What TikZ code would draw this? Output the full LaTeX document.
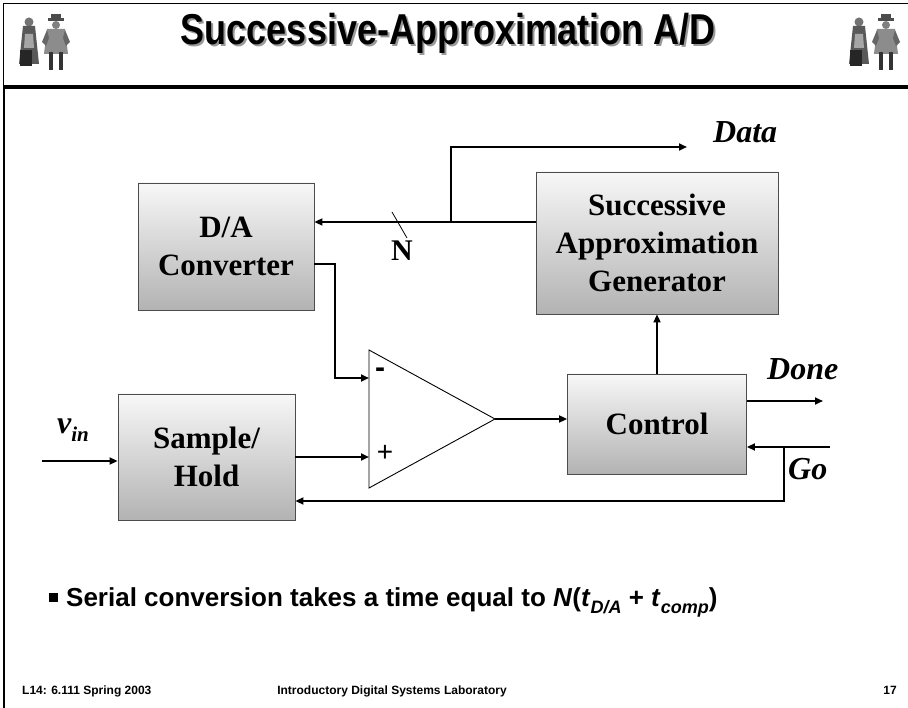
\documentclass[tikz,border=0pt]{standalone}
\usepackage{graphicx}
\usepackage{fontspec}
\setmainfont{Liberation Serif}
\setsansfont{Liberation Sans}
\usetikzlibrary{arrows.meta}
\begin{document}
\begin{tikzpicture}[x=1pt,y=-1pt,
  blk/.style={draw=black!70,line width=0.9pt,top color=black!3,bottom color=black!30,
    font=\fontsize{31}{38}\selectfont\bfseries,align=center,inner sep=0pt},
  arr/.style={line width=2.4pt,-{Triangle[length=8pt,width=7pt]}},
  sig/.style={font=\fontsize{32}{32}\selectfont\bfseries\itshape,inner sep=0pt},
  foot/.style={font=\sffamily\bfseries\fontsize{12}{12}\selectfont,inner sep=0pt},
  ttl/.style={font=\sffamily\bfseries\fontsize{36}{36}\selectfont,inner sep=0pt,anchor=base},
  scholars/.pic={
    % robed figure
    \fill[black!55] (14,8) circle (4.5);
    \fill[black!65] (8,12) -- (20,12) -- (24,50) -- (4,50) -- cycle;
    \fill[black!35] (10,20) -- (18,20) -- (19,34) -- (9,34) -- cycle;
    \fill[black!85] (5,36) rectangle (17,52);
    % figure in coat and hat
    \fill[black!70] (33,4) rectangle (49,7);
    \fill[black!70] (36,0) rectangle (46,5);
    \fill[black!50] (41,11) circle (4);
    \fill[black!45] (32,15) -- (50,15) -- (53,40) -- (29,40) -- cycle;
    \fill[black!60] (32,16) -- (27,28) -- (31,32) -- (34,24) -- cycle;
    \fill[black!60] (50,16) -- (55,28) -- (51,32) -- (48,24) -- cycle;
    \fill[black!80] (34,38) rectangle (38,56);
    \fill[black!80] (44,38) rectangle (48,56);
  }]
\useasboundingbox (0,0) rectangle (908,708);
\fill[white] (0,0) rectangle (908,708);

% slide frame and header bar
\draw[line width=1.4pt] (3.5,708) -- (3.5,3.5) -- (908,3.5);
\fill (3,85) rectangle (908,89.5);
\draw[line width=1.8pt] (3.8,89) -- (3.8,708);

% header
\pic at (15,14) {scholars};
\pic at (845,14) {scholars};
\node[ttl,text=black!40] (titleshadow) at (450,47) {\scalebox{1}[1.2]{Successive-Approximation A/D}};
\node[ttl] (title) at (448,45) {\scalebox{1}[1.2]{Successive-Approximation A/D}};

% blocks
\node[blk,minimum width=176,minimum height=127] (da) at (226,246.5) {D/A\\Converter};
\node[blk,minimum width=242,minimum height=142] (sag) at (657,243) {Successive\\Approximation\\Generator};
\node[blk,minimum width=177,minimum height=126] (sh) at (206.5,457) {Sample/\\Hold};
\node[blk,minimum width=179,minimum height=100] (ctrl) at (657,424) {Control};

% comparator
\coordinate (cmpA) at (369,350);
\coordinate (cmpB) at (369,488);
\coordinate (cout) at (495,419);
\coordinate (cminus) at (369,378);
\coordinate (cplus) at (369,457);
\draw[line width=0.9pt,fill=white] (cmpA) -- (cout) -- (cmpB) -- cycle;
\node[font=\sffamily\bfseries\fontsize{30}{30}\selectfont,inner sep=0pt] (minus) at (380,373) {-};
\node[font=\sffamily\fontsize{28}{28}\selectfont,inner sep=0pt] (plus) at (385,453) {+};

% N-bit bus from the generator to the converter, tapped for the data output
\coordinate (bus) at (0,222);
\coordinate (tap) at (451,222);
\coordinate (dataout) at (687,147);
\draw[arr] (sag.west |- bus) -- (da.east |- bus);
\draw[arr] (tap) |- (dataout);
\draw[line width=0.8pt] (392,212) -- (407,238);
\node[font=\fontsize{30}{30}\selectfont\bfseries,inner sep=0pt] (nlab) at (402,251) {N};

% converter output to the inverting input
\coordinate (daoutY) at (0,264);
\coordinate (bendA) at (335,300);
\draw[arr] (da.east |- daoutY) -| (bendA) |- (cminus);

% analog input path
\coordinate (vin) at (42,461);
\draw[arr] (vin) -- (sh.west |- vin);
\draw[arr] (sh.east |- cplus) -- (cplus);
\draw[arr] (cout) -- (ctrl.west |- cout);
\draw[arr] (ctrl.north) -- (sag.south);

% control outputs and inputs
\coordinate (doneout) at (823,401);
\draw[arr] (ctrl.east |- doneout) -- (doneout);
\coordinate (goin) at (830,447);
\coordinate (gotap) at (784,447);
\coordinate (fbY) at (0,501);
\draw[arr] (goin) -- (ctrl.east |- goin);
\draw[arr] (gotap) |- (sh.east |- fbY);

% signal labels
\node[sig,anchor=base west] (datalab) at (713,143) {Data};
\node[sig,anchor=base west] (donelab) at (767,380) {Done};
\node[sig,anchor=base west] (golab) at (788,479) {Go};
\node[sig,anchor=base west] (vinlab) at (57,434) {v\raisebox{-0.25em}{\fontsize{21}{21}\selectfont in}};

% bullet line
\node[fill=black,minimum size=9,inner sep=0pt] (bsq) at (53,597) {};
\node[anchor=base west,inner sep=0pt,font=\sffamily\bfseries\fontsize{26}{26}\selectfont] (bullet) at (66,606)
  {Serial conversion takes a time equal to \textit{N}(\textit{t}\raisebox{-0.3em}{\fontsize{18}{18}\selectfont\itshape D/A} + \textit{t}\raisebox{-0.3em}{\fontsize{18}{18}\selectfont\itshape comp})};

% footer
\node[foot,anchor=base west] (footl) at (22,694) {L14: 6.111 Spring 2003};
\node[foot,anchor=base] (footc) at (392,694) {Introductory Digital Systems Laboratory};
\node[foot,anchor=base east] (footr) at (897,694) {17};
\end{tikzpicture}
\end{document}
